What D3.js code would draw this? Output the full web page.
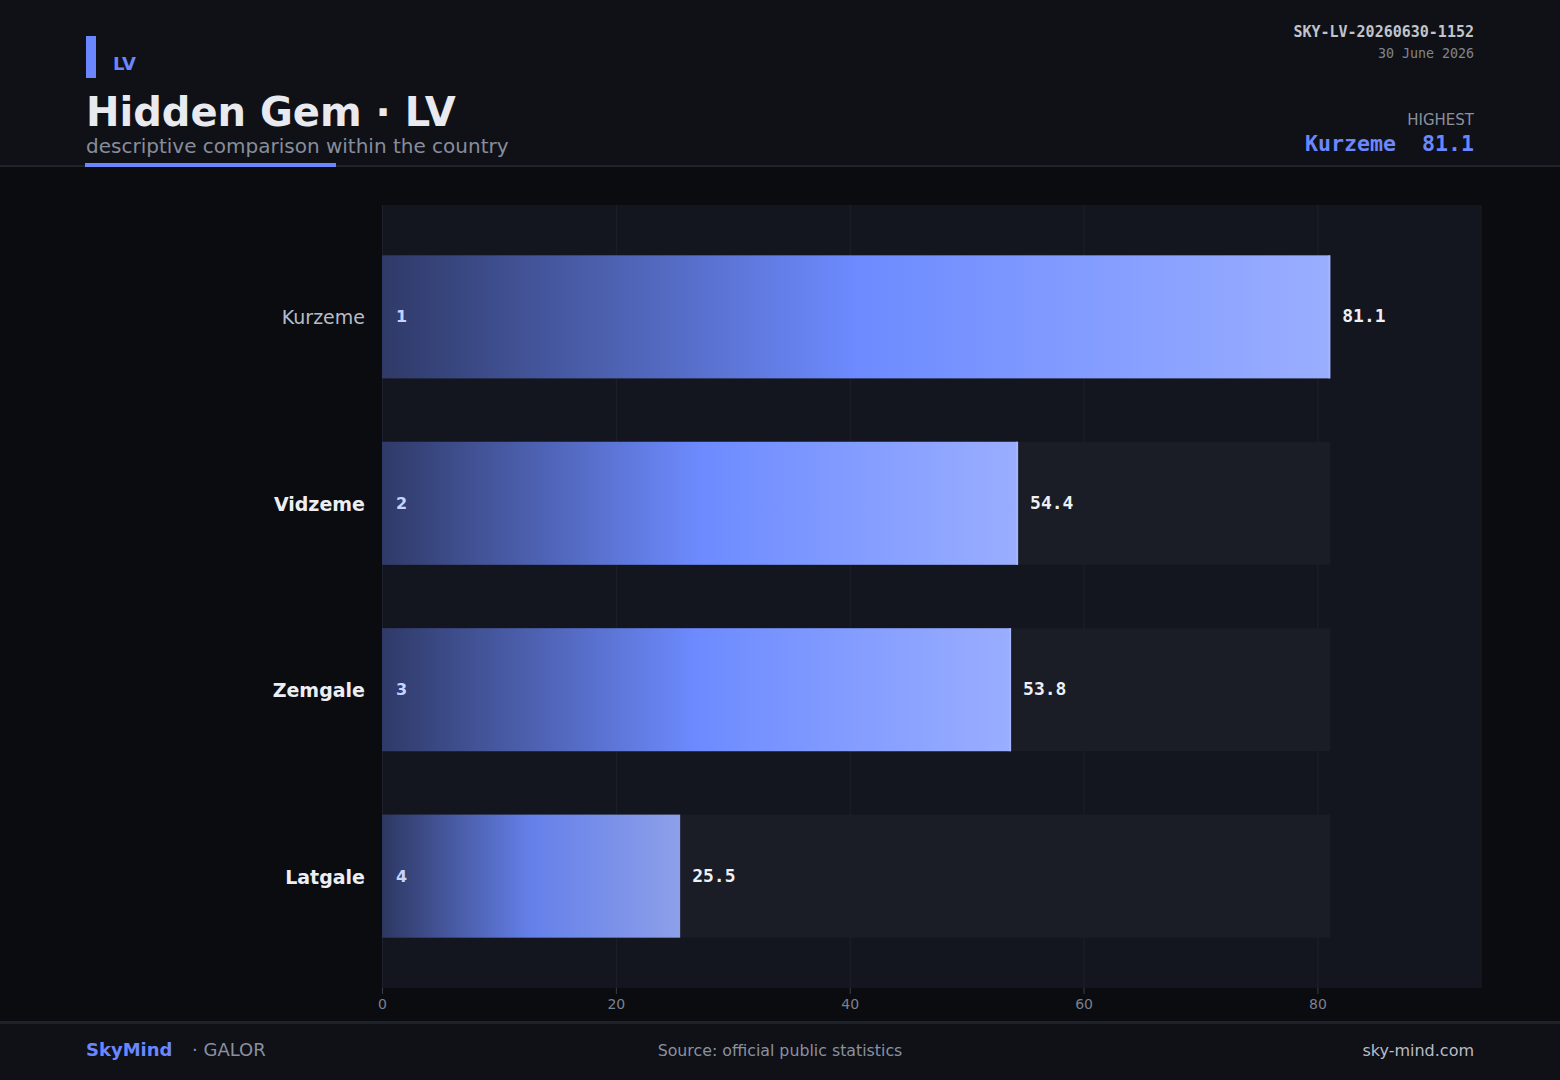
<!DOCTYPE html>
<html lang="en">
  <head>
    <meta charset="utf-8">
    <script src="https://d3js.org/d3.v7.min.js"></script>
    <title>Hidden Gem · LV</title>
    <style>
      body { margin: 0; background: #0b0c10; }
      svg { display: block; }
    </style>
  </head>
  <body>
    <svg id="chart"></svg>
    <script>
      // data
      var regions = ["Kurzeme", "Vidzeme", "Zemgale", "Latgale"];
      var values = [81.1, 54.4, 53.8, 25.5];
      var ranks = [1, 2, 3, 4];
      var xTicks = [0, 20, 40, 60, 80];

      var width = 1560, height = 1080;
      var plot = {left: 382, right: 1482, top: 205, bottom: 988};
      var mono = "'DejaVu Sans Mono', monospace";
      var sans = "'DejaVu Sans', sans-serif";
      var blue = "#6b87ff";

      var svg = d3.select("#chart").attr("width", width).attr("height", height);

      var rows = regions.map(function(r, i) {
        return {name: r, value: values[i], rank: ranks[i]};
      });
      var maxV = d3.max(values);

      var x = d3.scaleLinear().domain([0, maxV * 1.16]).range([plot.left, plot.right]);
      var y = d3.scaleBand().domain(regions).range([plot.top, plot.bottom])
        .paddingInner(0.34).paddingOuter(0.27);

      // backgrounds
      svg.append("rect").attr("width", width).attr("height", height).attr("fill", "#0b0c10");
      svg.append("rect").attr("width", width).attr("height", 166).attr("fill", "#0f1116");
      svg.append("rect").attr("y", 165).attr("width", width).attr("height", 2).attr("fill", "#20232b");
      svg.append("rect").attr("y", 1021).attr("width", width).attr("height", height - 1021).attr("fill", "#0f1116");
      svg.append("rect").attr("y", 1021).attr("width", width).attr("height", 3).attr("fill", "#1e2129");

      // header
      svg.append("rect").attr("x", 86).attr("y", 36).attr("width", 10).attr("height", 42).attr("fill", blue);
      svg.append("text").attr("x", 113).attr("y", 70).text("LV")
        .attr("font-family", sans).attr("font-weight", "bold").attr("font-size", 18).attr("fill", blue);
      svg.append("text").attr("x", 86).attr("y", 126).text("Hidden Gem · LV")
        .attr("font-family", sans).attr("font-weight", "bold").attr("font-size", 40).attr("fill", "#e8eaf0");
      svg.append("text").attr("x", 86).attr("y", 153).text("descriptive comparison within the country")
        .attr("font-family", sans).attr("font-size", 20).attr("fill", "#878d9c");
      svg.append("rect").attr("x", 85).attr("y", 163).attr("width", 251).attr("height", 4).attr("fill", blue);

      svg.append("text").attr("x", 1474).attr("y", 37).attr("text-anchor", "end").text("SKY-LV-20260630-1152")
        .attr("font-family", mono).attr("font-weight", "bold").attr("font-size", 15).attr("fill", "#c0c4cc");
      svg.append("text").attr("x", 1474).attr("y", 58).attr("text-anchor", "end").text("30 June 2026")
        .attr("font-family", mono).attr("font-size", 13.3).attr("fill", "#80868f");
      svg.append("text").attr("x", 1474).attr("y", 125).attr("text-anchor", "end").text("HIGHEST")
        .attr("font-family", sans).attr("font-size", 15).attr("fill", "#8a90a0");
      svg.append("text").attr("x", 1474).attr("y", 151).attr("text-anchor", "end")
        .attr("xml:space", "preserve").text(regions[0] + "  " + values[0].toFixed(1))
        .attr("font-family", mono).attr("font-weight", "bold").attr("font-size", 21.6).attr("fill", blue);

      // plot area
      svg.append("rect").attr("x", plot.left).attr("y", plot.top)
        .attr("width", plot.right - plot.left).attr("height", plot.bottom - plot.top).attr("fill", "#13161e");

      svg.append("g").selectAll("line").data(xTicks).enter().append("line")
        .attr("x1", function(d) { return x(d) + 0.5; })
        .attr("x2", function(d) { return x(d) + 0.5; })
        .attr("y1", plot.top).attr("y2", plot.bottom)
        .attr("stroke", "#1e212b").attr("stroke-width", 1);

      // gradient
      var defs = svg.append("defs");
      var grad = defs.append("linearGradient").attr("id", "barGrad")
        .attr("x1", "0%").attr("x2", "100%").attr("y1", "0%").attr("y2", "0%");
      grad.append("stop").attr("offset", "0%").attr("stop-color", "#2f3a68");
      grad.append("stop").attr("offset", "50%").attr("stop-color", "#6d8bff");
      grad.append("stop").attr("offset", "100%").attr("stop-color", "#9aaeff");

      var row = svg.append("g").selectAll("g").data(rows).enter().append("g");

      // tracks
      row.append("rect")
        .attr("x", x(0)).attr("y", function(d) { return y(d.name); })
        .attr("width", x(maxV) - x(0)).attr("height", y.bandwidth())
        .attr("fill", "#1a1d26");

      row.append("rect")
        .attr("x", x(0)).attr("y", function(d) { return y(d.name); })
        .attr("width", function(d) { return x(d.value) - x(0); })
        .attr("height", y.bandwidth())
        .attr("fill", "url(#barGrad)")
        .attr("opacity", function(d) { return d.rank == 4 ? 0.9 : 1; });

      row.append("rect")
        .attr("x", function(d) { return x(d.value) - 2; })
        .attr("y", function(d) { return y(d.name); })
        .attr("width", 2).attr("height", y.bandwidth())
        .attr("fill", "#a6b8ff")
        .attr("opacity", function(d) { return d.rank == 4 ? 0.0 : 0.8; });

      row.append("text")
        .attr("x", x(0) + 14)
        .attr("y", function(d) { return y(d.name) + y.bandwidth() / 2; })
        .attr("dy", "0.35em")
        .text(function(d) { return d.rank; })
        .attr("font-family", sans).attr("font-weight", "bold").attr("font-size", 16)
        .attr("fill", "#c8d2ff");

      row.append("text")
        .attr("x", function(d) { return x(d.value) + 12; })
        .attr("y", function(d) { return y(d.name) + y.bandwidth() / 2; })
        .attr("dy", "0.3em")
        .text(function(d) { return d.value.toFixed(1); })
        .attr("font-family", mono).attr("font-weight", "bold").attr("font-size", 18)
        .attr("fill", "#eef0f5");

      row.append("text")
        .attr("x", 365)
        .attr("y", function(d) { return y(d.name) + y.bandwidth() / 2; })
        .attr("dy", "0.4em")
        .attr("text-anchor", "end")
        .text(function(d) { return d.name; })
        .attr("font-family", sans).attr("font-size", 19)
        .attr("font-weight", function(d) { return d.rank == 1 ? "normal" : "bold"; })
        .attr("fill", function(d) { return d.rank == 1 ? "#b8bcc8" : "#eceef3"; });

      // x axis
      var xAxis = svg.append("g").attr("transform", "translate(0," + plot.bottom + ")")
        .call(d3.axisBottom(x).tickValues(xTicks).tickSize(6).tickPadding(5));
      xAxis.select(".domain").remove();
      xAxis.selectAll("line").attr("stroke", "#3a3f4c");
      xAxis.selectAll("text").attr("fill", "#7a8090").attr("font-family", sans).attr("font-size", 14);

      // footer
      svg.append("text").attr("x", 86).attr("y", 1056).text("SkyMind")
        .attr("font-family", sans).attr("font-weight", "bold").attr("font-size", 18).attr("fill", blue);
      svg.append("text").attr("x", 192).attr("y", 1056).text("· GALOR")
        .attr("font-family", sans).attr("font-size", 18).attr("fill", "#8a90a0");
      svg.append("text").attr("x", 780).attr("y", 1056).attr("text-anchor", "middle")
        .text("Source: official public statistics")
        .attr("font-family", sans).attr("font-size", 15.8).attr("fill", "#8a90a0");
      svg.append("text").attr("x", 1474).attr("y", 1056).attr("text-anchor", "end").text("sky-mind.com")
        .attr("font-family", sans).attr("font-size", 16).attr("fill", "#b8bcc8");
    </script>
  </body>
</html>
